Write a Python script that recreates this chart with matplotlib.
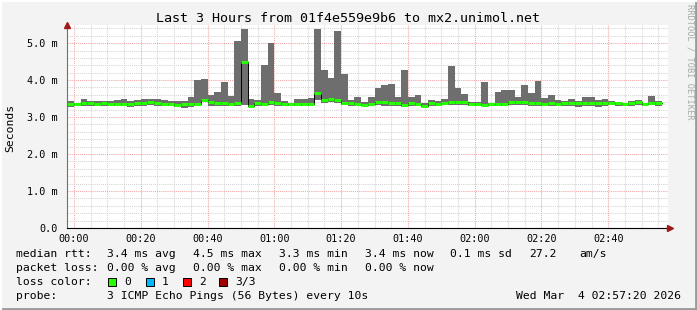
import matplotlib
matplotlib.use('Agg')
import matplotlib.pyplot as plt
import numpy as np
from matplotlib.patches import Rectangle
from matplotlib.lines import Line2D

plt.rc('font', family='DejaVu Sans Mono')

W, H = 697, 310

# 2 minute steps, minutes after 00:00
step_start = list(range(-2, 176, 2))

rtt_max = [3.44, 3.39, 3.49, 3.43, 3.43, 3.43, 3.43, 3.46, 3.49, 3.44, 3.46, 3.49, 3.50, 3.50, 3.46, 3.43, 3.43, 3.43, 3.55,
           4.00, 4.03, 3.60, 3.68, 3.95, 3.57, 5.05, 5.38, 3.50, 3.46, 4.40, 5.00, 3.64, 3.43, 3.39, 3.49, 3.49, 3.52,
           5.38, 4.27, 4.07, 5.32, 4.16, 3.46, 3.55, 3.41, 3.53, 3.79, 3.86, 3.89, 3.53, 4.27, 3.53, 3.59, 3.39, 3.46,
           3.44, 3.48, 4.39, 3.78, 3.62, 3.41, 3.41, 3.96, 3.39, 3.69, 3.73, 3.73, 3.55, 3.86, 3.66, 3.98, 3.51, 3.59,
           3.46, 3.44, 3.49, 3.44, 3.55, 3.53, 3.46, 3.49, 3.44, 3.41, 3.39, 3.44, 3.46, 3.39, 3.57, 3.44]

rtt_median = [3.34, 3.34, 3.38, 3.38, 3.34, 3.38, 3.35, 3.35, 3.35, 3.34, 3.38, 3.38, 3.40, 3.39, 3.35, 3.36, 3.32, 3.34, 3.34,
              3.35, 3.47, 3.42, 3.38, 3.38, 3.35, 3.38, 4.50, 3.31, 3.37, 3.36, 3.40, 3.38, 3.34, 3.34, 3.34, 3.34, 3.34,
              3.64, 3.46, 3.48, 3.46, 3.39, 3.37, 3.36, 3.33, 3.36, 3.41, 3.41, 3.37, 3.38, 3.32, 3.37, 3.36, 3.31, 3.38,
              3.36, 3.39, 3.41, 3.41, 3.41, 3.36, 3.35, 3.33, 3.35, 3.36, 3.36, 3.41, 3.41, 3.42, 3.38, 3.37, 3.36, 3.38,
              3.36, 3.37, 3.38, 3.38, 3.38, 3.37, 3.37, 3.38, 3.39, 3.37, 3.35, 3.38, 3.41, 3.34, 3.39, 3.39]

rtt_min = [3.28, 3.31, 3.31, 3.31, 3.29, 3.31, 3.31, 3.31, 3.31, 3.28, 3.31, 3.31, 3.32, 3.31, 3.30, 3.31, 3.28, 3.25, 3.26,
           3.30, 3.42, 3.31, 3.31, 3.31, 3.30, 3.31, 3.33, 3.28, 3.31, 3.30, 3.32, 3.31, 3.30, 3.31, 3.30, 3.30, 3.29,
           3.46, 3.38, 3.40, 3.38, 3.32, 3.31, 3.31, 3.29, 3.30, 3.32, 3.30, 3.31, 3.31, 3.28, 3.31, 3.31, 3.27, 3.31,
           3.31, 3.32, 3.32, 3.32, 3.33, 3.30, 3.30, 3.29, 3.30, 3.31, 3.31, 3.32, 3.32, 3.33, 3.31, 3.31, 3.31, 3.31,
           3.31, 3.31, 3.31, 3.27, 3.31, 3.31, 3.28, 3.31, 3.32, 3.31, 3.30, 3.31, 3.32, 3.30, 3.32, 3.31]

xtick_pos = [0, 20, 40, 60, 80, 100, 120, 140, 160]
xtick_lab = ['00:00', '00:20', '00:40', '01:00', '01:20', '01:40', '02:00', '02:20', '02:40']
ytick_pos = [0, 1, 2, 3, 4, 5]
ytick_lab = ['0.0', '1.0 m', '2.0 m', '3.0 m', '4.0 m', '5.0 m']

loss_labels = ['0', '1', '2', '3/3']
loss_colors = ['#26ff00', '#00b8ff', '#ff0000', '#a00000']

fig = plt.figure(figsize=(W / 100, H / 100), dpi=100, facecolor='#f3f3f3')
L, R, T, B = 67, 668, 25, 228
ax = fig.add_axes([L / W, 1 - B / H, (R - L) / W, (B - T) / H])
ax.set_facecolor('white')

# grid
ax.set_xlim(-2.1, 177.9)
ax.set_ylim(0, 5.49)
ax.set_xticks(xtick_pos)
ax.set_xticklabels(xtick_lab)
ax.set_xticks(np.arange(0, 178, 5), minor=True)
ax.set_yticks(ytick_pos)
ax.set_yticklabels(ytick_lab)
ax.set_yticks(np.arange(0, 5.5, 0.2), minor=True)
ax.grid(which='minor', color='#d4d4d4', ls=(0, (1, 1)), lw=0.75)
ax.grid(which='major', color='#f2a6a6', ls=(0, (1, 1)), lw=0.75)
ax.set_axisbelow(True)

# smoke + median
starts = np.array(step_start, dtype=float)
ends = starts + 2
edges = np.append(starts, ends[-1])
ax.fill_between(edges, rtt_min + [rtt_min[-1]], rtt_max + [rtt_max[-1]],
                step='post', color='#6e6e6e', lw=0, zorder=2)
ax.step(edges, rtt_median + [rtt_median[-1]], where='post', color='black', lw=0.7, zorder=3)
ax.hlines(rtt_median, starts, ends, color=loss_colors[0], lw=2.2, zorder=4)

# axes
for s in ['top', 'right']:
    ax.spines[s].set_visible(False)
ax.spines['left'].set_color('#707070')
ax.spines['bottom'].set_color('black')
ax.spines['left'].set_zorder(5)
ax.spines['bottom'].set_zorder(5)
ax.tick_params(which='both', length=0, labelsize=7.3, colors='black')
ax.tick_params(axis='x', pad=4)
ax.tick_params(axis='y', pad=7)
ax.plot([0], [1], marker='^', color='#a01818', ms=5, transform=ax.transAxes, clip_on=False, zorder=6)
ax.plot([1.004], [0], marker='>', color='#a01818', ms=5, transform=ax.transAxes, clip_on=False, zorder=6)

fig.text(348 / W, 1 - 18 / H, 'Last 3 Hours from 01f4e559e9b6 to mx2.unimol.net',
         ha='center', va='center', fontsize=9.6)
fig.text(10 / W, 1 - 128 / H, 'Seconds', rotation=90, ha='center', va='center', fontsize=8.2)
fig.text(690 / W, 1 - 62 / H, 'RRDTOOL / TOBI OETIKER', rotation=270, ha='center', va='center',
         fontsize=6.2, color='#a8a8a8')

fs = 8.2
def put(x, y, s, ha='left', color='black'):
    fig.text(x / W, 1 - y / H, s, ha=ha, va='center', fontsize=fs, color=color)

put(16, 254, 'median rtt:')
put(107, 254, '3.4 ms avg')
put(193, 254, '4.5 ms max')
put(279, 254, '3.3 ms min')
put(365, 254, '3.4 ms now')
put(450, 254, '0.1 ms sd')
put(529, 254, '27.2')
put(579, 254, 'am/s')

put(16, 268, 'packet loss:')
put(107, 268, '0.00 % avg')
put(193, 268, '0.00 % max')
put(279, 268, '0.00 % min')
put(365, 268, '0.00 % now')

put(16, 282, 'loss color:')
box_x = [108, 146, 183, 219]
for bx, lab, col in zip(box_x, loss_labels, loss_colors):
    fig.patches.append(Rectangle((bx / W, 1 - 286 / H), 8 / W, 8 / H, transform=fig.transFigure,
                                 facecolor=col, edgecolor='black', lw=0.7))
    put(bx + 16, 282, lab)

put(16, 296, 'probe:')
put(107, 296, '3 ICMP Echo Pings (56 Bytes) every 10s')
put(681, 296, 'Wed Mar  4 02:57:20 2026', ha='right')

# frame
fig.lines.append(Line2D([0, 1], [1.5 / H, 1.5 / H], transform=fig.transFigure, color='#9a9a9a', lw=2))
fig.lines.append(Line2D([1 - 1.5 / W, 1 - 1.5 / W], [0, 1], transform=fig.transFigure, color='#9a9a9a', lw=2))
fig.lines.append(Line2D([0, 1], [1 - 1 / H, 1 - 1 / H], transform=fig.transFigure, color='#ffffff', lw=1.5))
fig.lines.append(Line2D([1 / W, 1 / W], [0, 1], transform=fig.transFigure, color='#ffffff', lw=1.5))

fig.savefig('out.png', dpi=100, facecolor=fig.get_facecolor())
